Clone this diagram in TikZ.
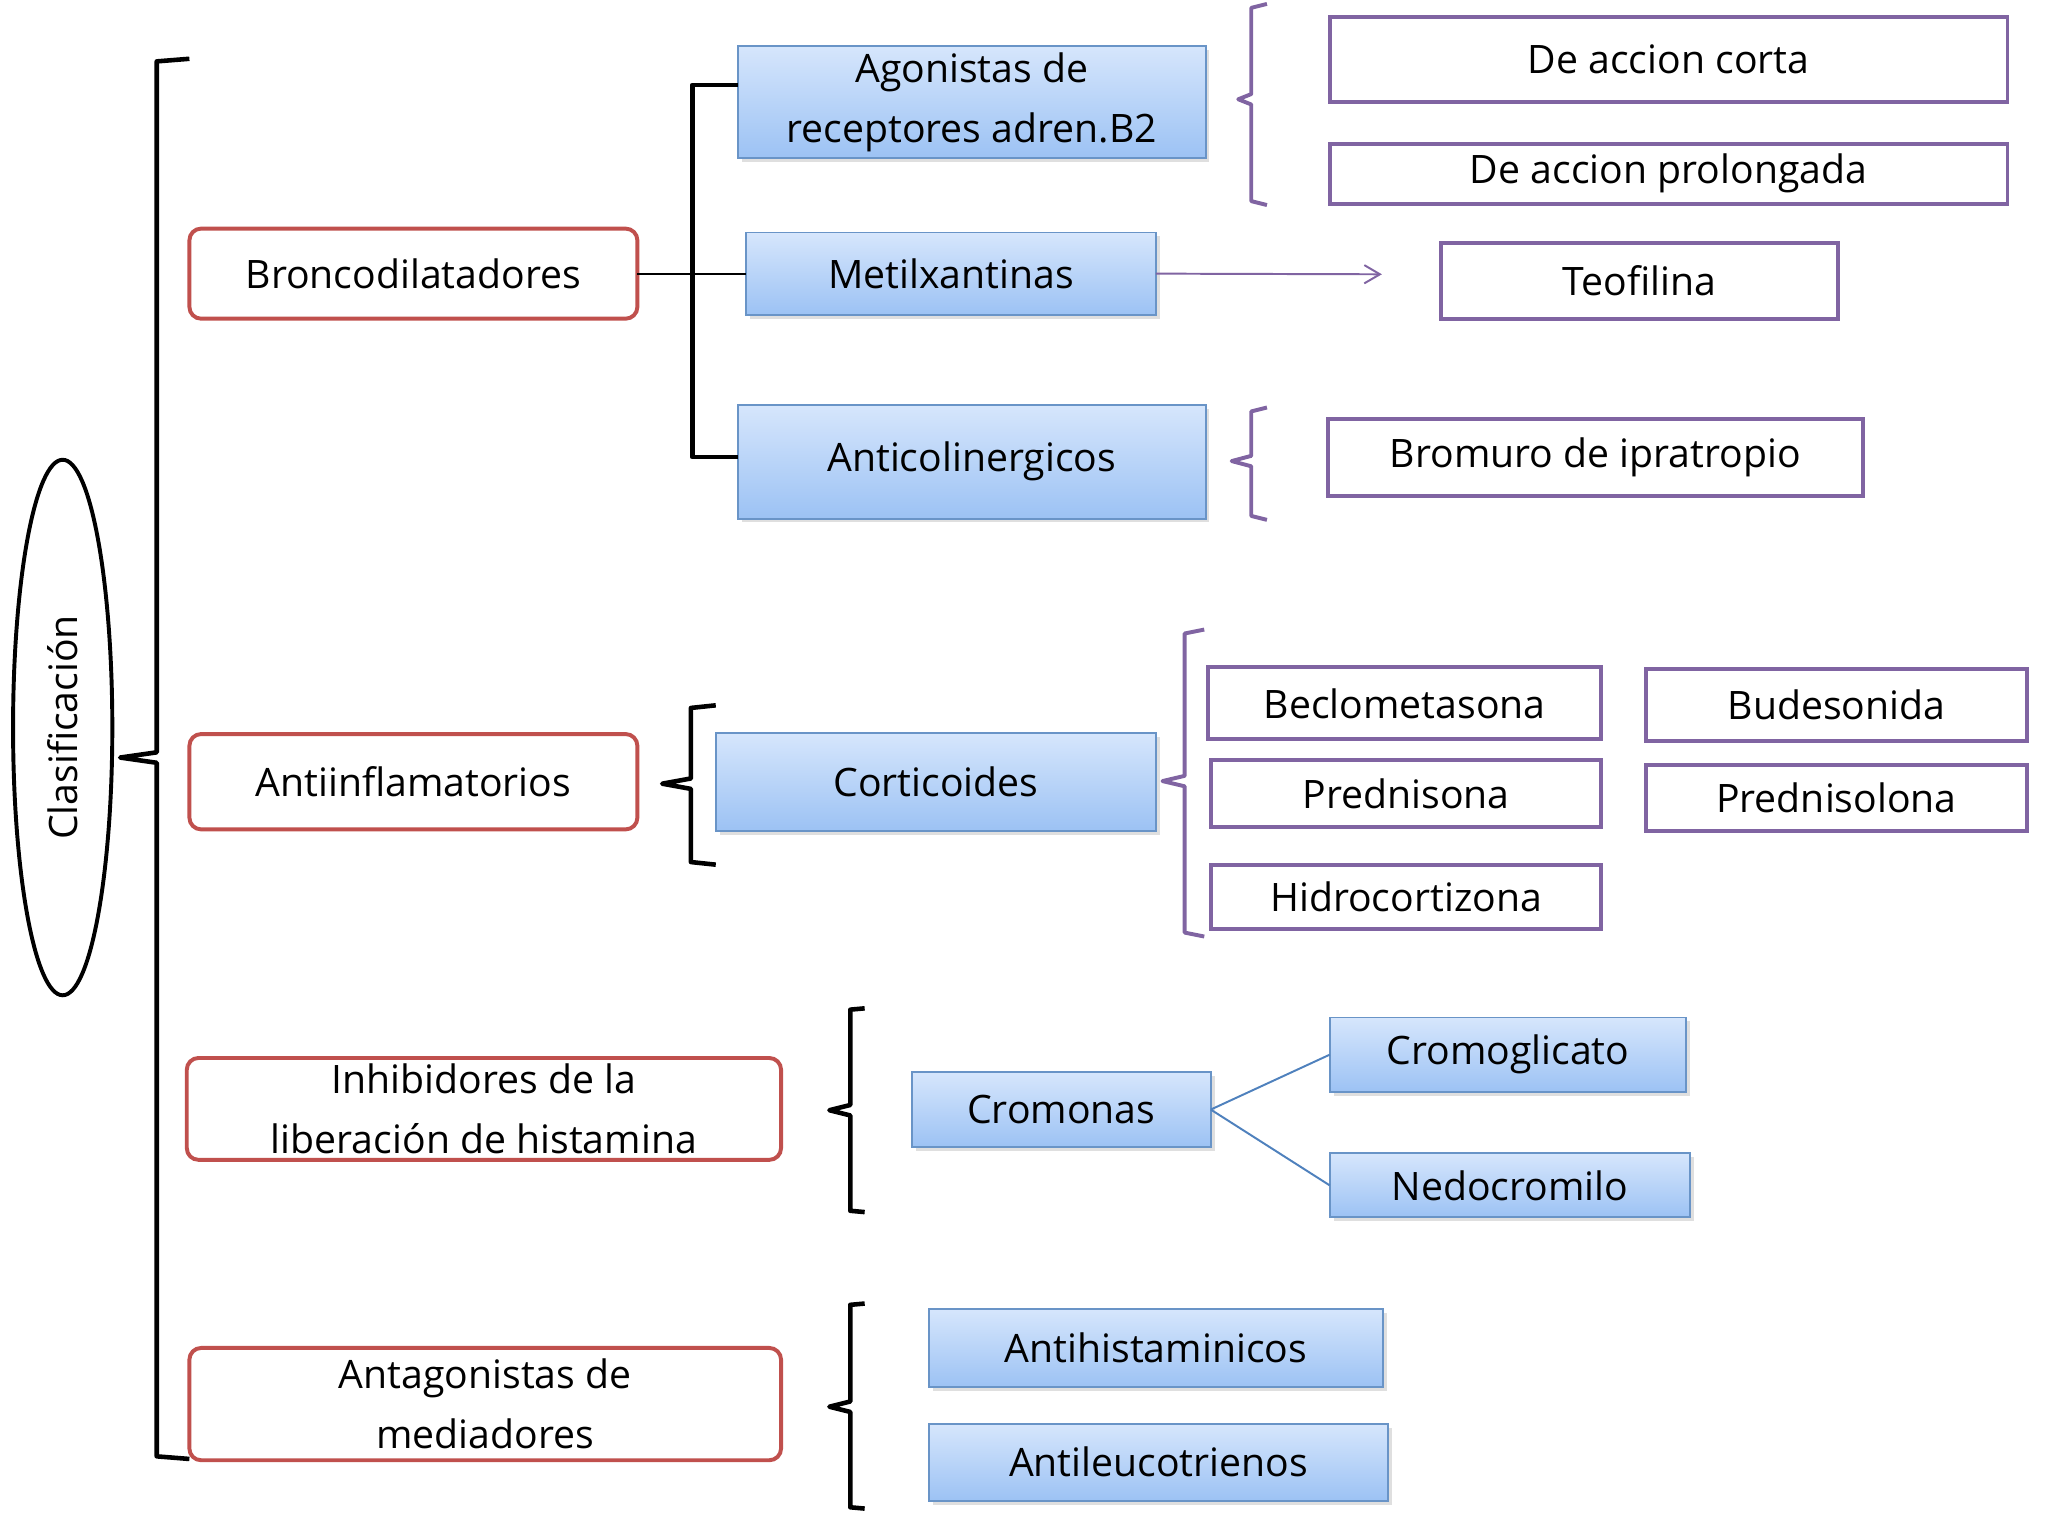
\documentclass[tikz,border=0pt]{standalone}
\usepackage{fontspec}
\setmainfont{Open Sans}
\usetikzlibrary{shadows,arrows.meta,shapes.geometric}
\definecolor{redb}{HTML}{C0504D}
\definecolor{purb}{HTML}{8064A2}
\definecolor{blub}{HTML}{4F81BD}
\definecolor{bluetop}{HTML}{D6E6FC}
\definecolor{bluebot}{HTML}{9CC2F4}
\tikzset{
  base/.style={draw, inner sep=0pt, outer sep=0pt, align=center, font=\fontsize{30}{46}\selectfont},
  red/.style={base, draw=redb, line width=3pt, rounded corners=9pt, fill=white},
  blue/.style={base, draw=blub!85, line width=1.5pt, top color=bluetop, bottom color=bluebot, drop shadow={opacity=0.25, shadow xshift=3pt, shadow yshift=-3pt}},
  pur/.style={base, draw=purb, line width=3pt, fill=white},
  kb/.style={line width=3.5pt, black, line join=round},
  pb/.style={line width=3pt, purb, line join=round},
}
\newcommand{\bx}[7]{\node[#2, minimum width={(#5-#3)*1pt}, minimum height={(#6-#4)*1pt}] (#1) at ({(#3+#5)/2},{(#4+#6)/2}) {#7};}
\begin{document}
\begin{tikzpicture}[x=1pt,y=-1pt]
\useasboundingbox (0,0) rectangle (1568,1176);
\node[draw, line width=3pt, ellipse, minimum width=76pt, minimum height=410pt, inner sep=0pt] (cl) at (48,557) {};
\node[rotate=90, font=\fontsize{30}{40}\selectfont] (clt) at (cl.center) {Clasificación};
% red boxes
\bx{br}{red}{145}{175}{488}{244}{Broncodilatadores}
\bx{ai}{red}{145}{562}{488}{635}{Antiinflamatorios}
\bx{ih}{red}{143}{810}{598}{888}{Inhibidores de la\\liberación de histamina}
\bx{am}{red}{145}{1032}{598}{1118}{Antagonistas de\\mediadores}
% blue boxes
\bx{ag}{blue}{565}{35}{923}{121}{Agonistas de\\receptores adren.B2}
\bx{me}{blue}{571}{178}{885}{241}{Metilxantinas}
\bx{an}{blue}{565}{310}{923}{397}{Anticolinergicos}
\bx{co}{blue}{548}{561}{885}{636}{Corticoides}
\bx{cr}{blue}{698}{821}{927}{878}{Cromonas}
\bx{cg}{blue}{1018}{779}{1291}{836}{Cromoglicato}
\bx{ne}{blue}{1018}{883}{1294}{932}{Nedocromilo}
\bx{ah}{blue}{711}{1002}{1059}{1062}{Antihistaminicos}
\bx{al}{blue}{711}{1090}{1063}{1149}{Antileucotrienos}
% purple boxes
\bx{dc}{pur}{1018}{13}{1537}{78}{De accion corta}
\bx{dp}{pur}{1018}{110}{1537}{156}{De accion prolongada}
\bx{te}{pur}{1103}{186}{1407}{244}{Teofilina}
\bx{bi}{pur}{1017}{321}{1426}{380}{Bromuro de ipratropio}
\bx{be}{pur}{925}{511}{1226}{566}{Beclometasona}
\bx{bu}{pur}{1260}{512}{1552}{567}{Budesonida}
\bx{pr}{pur}{927}{582}{1226}{633}{Prednisona}
\bx{pl}{pur}{1260}{586}{1552}{636}{Prednisolona}
\bx{hi}{pur}{927}{662}{1226}{711}{Hidrocortizona}
% main brace
\draw[kb] (145,45) -- (120,47) -- (120,576) -- (92,580) -- (120,584) -- (120,1115) -- (145,1117);
% broncodilatadores brace
\coordinate (agL) at (ag.west|-0,65);
\coordinate (anL) at (an.west|-0,350);
\draw[kb] (agL) -- (530,65) -- (530,350) -- (anL);
\draw[line width=1.5pt] (br.east) -- (me.west);
% purple braces
\draw[pb] (970,3) -- (958,6) -- (958,72) -- (948,76) -- (958,80) -- (958,154) -- (970,157);
\coordinate (arr) at (1058,210);
\draw[purb, line width=1.5pt, -{Straight Barb[length=12pt,width=14pt]}] (me.east) -- (arr);
\draw[pb] (970,312) -- (958,315) -- (958,349) -- (943,353) -- (958,357) -- (958,395) -- (970,398);
\draw[pb] (922,482) -- (907,485) -- (907,594) -- (890,598) -- (907,602) -- (907,714) -- (922,717);
% black braces
\draw[kb] (548,540) -- (529,542) -- (529,596) -- (507,600) -- (529,604) -- (529,660) -- (548,662);
\draw[kb] (662,772) -- (651,773) -- (651,846) -- (635,850) -- (651,854) -- (651,927) -- (662,928);
\draw[kb] (662,998) -- (651,999) -- (651,1073) -- (635,1077) -- (651,1081) -- (651,1154) -- (662,1155);
% cromonas lines
\draw[blub, line width=1.5pt] (cr.east) -- (cg.west);
\draw[blub, line width=1.5pt] (cr.east) -- (ne.west);
\end{tikzpicture}
\end{document}
